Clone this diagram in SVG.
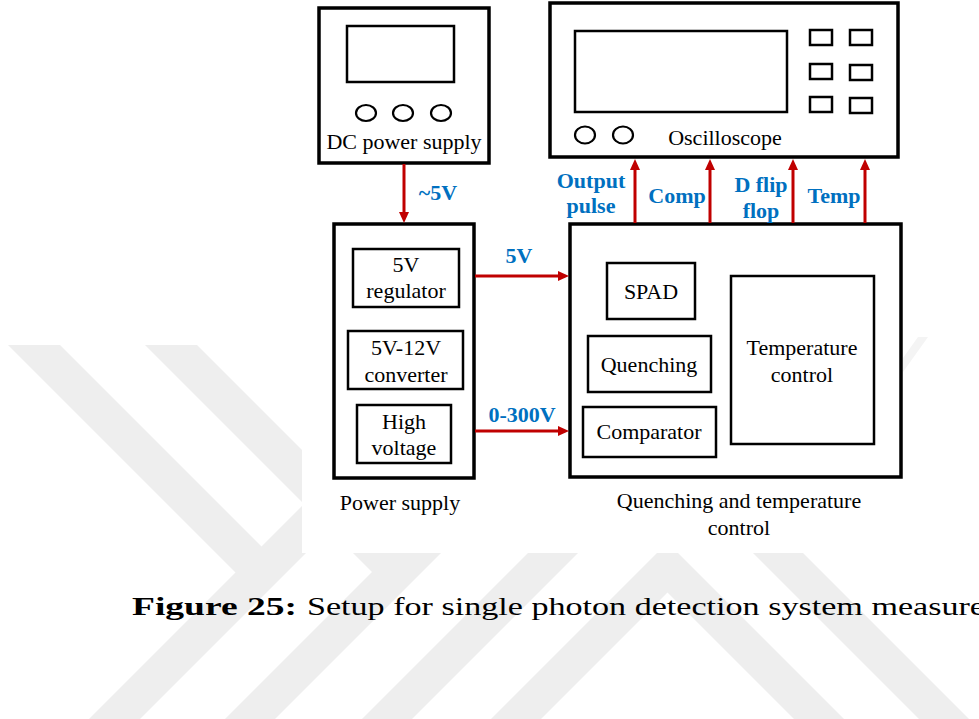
<svg xmlns="http://www.w3.org/2000/svg" width="979" height="719" viewBox="0 0 979 719">
<style>
.box{fill:none;stroke:#000;stroke-width:3.5}
.inner{fill:none;stroke:#000;stroke-width:2.5}
.knob{fill:none;stroke:#000;stroke-width:2.2}
.t{font-family:"Liberation Serif","Times New Roman",serif;font-size:22px;fill:#000;text-anchor:middle}
.lbl{font-family:"Liberation Serif","Times New Roman",serif;font-size:22px;font-weight:bold;fill:#0070c0;text-anchor:middle}
.wire{stroke:#c00000;stroke-width:3;fill:none;marker-end:url(#ah)}
.wm{fill:#eeeeee}
.cap{font-family:"Liberation Serif","Times New Roman",serif;font-size:26px;fill:#000}
</style>
<defs>
<marker id="ah" markerUnits="userSpaceOnUse" markerWidth="11" markerHeight="11" refX="5" refY="5" orient="auto">
<path d="M0,0 L11,5 L0,10 Z" fill="#c00000"/>
</marker>
</defs>
<rect x="0" y="0" width="979" height="719" fill="#ffffff"/>
<g id="watermark">
<polygon class="wm" points="8,345 60,345 272,557 246,583"/>
<polygon class="wm" points="558,250 609,250 140,719 89,719"/>
<polygon class="wm" points="145,345 197,345 410,558 384,584"/>
<polygon class="wm" points="694,250 744,250 275,719 225,719"/>
<polygon class="wm" points="831,250 881,250 412,719 362,719"/>
<polygon class="wm" points="667.5,542.5 844,719 794,719 667.5,592.5 541,719 491,719"/>
<polygon class="wm" points="700,450 981,731 931,731 650,450"/>
</g>
<rect x="302" y="0" width="601" height="553" fill="#ffffff"/>
<polygon points="903,372 928,337 918,337 903,358" fill="#f4f4f4"/>

<g id="dc-power-supply">
<rect class="box" x="319" y="8" width="170" height="155"/>
<rect class="inner" x="347" y="26" width="107" height="56"/>
<ellipse class="knob" cx="366" cy="113" rx="10" ry="8"/>
<ellipse class="knob" cx="403" cy="113" rx="10" ry="8"/>
<ellipse class="knob" cx="441" cy="113" rx="10" ry="8"/>
<text class="t" x="404" y="149">DC power supply</text>
</g>

<g id="oscilloscope">
<rect class="box" x="550" y="3" width="348" height="154"/>
<rect class="inner" x="575" y="31" width="212" height="81"/>
<rect class="inner" x="810" y="30" width="22" height="15"/>
<rect class="inner" x="850" y="30" width="22" height="15"/>
<rect class="inner" x="810" y="64" width="22" height="15"/>
<rect class="inner" x="850" y="65" width="22" height="15"/>
<rect class="inner" x="810" y="97" width="22" height="15"/>
<rect class="inner" x="850" y="98" width="22" height="15"/>
<ellipse class="knob" cx="585" cy="135" rx="10" ry="8.5"/>
<ellipse class="knob" cx="623" cy="135" rx="10" ry="8.5"/>
<text class="t" x="725" y="145">Oscilloscope</text>
</g>

<g id="power-supply">
<rect class="box" x="334" y="224" width="140" height="254"/>
<rect class="inner" x="353" y="249" width="106" height="58"/>
<text class="t" x="406" y="272">5V</text>
<text class="t" x="406" y="298">regulator</text>
<rect class="inner" x="348" y="331" width="115" height="58"/>
<text class="t" x="406" y="355">5V-12V</text>
<text class="t" x="406" y="382">converter</text>
<rect class="inner" x="357" y="405" width="94" height="58"/>
<text class="t" x="404" y="429">High</text>
<text class="t" x="404" y="455">voltage</text>
<text class="t" x="400" y="510">Power supply</text>
</g>

<g id="quenching-temperature-control">
<rect class="box" x="570" y="224" width="331" height="253"/>
<rect class="inner" x="607" y="263" width="88" height="56"/>
<text class="t" x="651" y="299">SPAD</text>
<rect class="inner" x="588" y="336" width="123" height="56"/>
<text class="t" x="649" y="372">Quenching</text>
<rect class="inner" x="583" y="407" width="133" height="50"/>
<text class="t" x="649" y="439">Comparator</text>
<rect class="inner" x="731" y="276" width="143" height="168"/>
<text class="t" x="802" y="355">Temperature</text>
<text class="t" x="802" y="382">control</text>
<text class="t" x="739" y="508">Quenching and temperature</text>
<text class="t" x="739" y="535">control</text>
</g>

<g id="connectors">
<line class="wire" x1="404" y1="164" x2="404" y2="217"/>
<line class="wire" x1="475" y1="276" x2="563" y2="276"/>
<line class="wire" x1="475" y1="431" x2="563" y2="431"/>
<line class="wire" x1="635" y1="223" x2="635" y2="165"/>
<line class="wire" x1="710" y1="223" x2="710" y2="165"/>
<line class="wire" x1="793" y1="223" x2="793" y2="165"/>
<line class="wire" x1="865" y1="223" x2="865" y2="165"/>
<text class="lbl" x="438" y="200">~5V</text>
<text class="lbl" x="519" y="263">5V</text>
<text class="lbl" x="522" y="422">0-300V</text>
<text class="lbl" x="591" y="188">Output</text>
<text class="lbl" x="591" y="213">pulse</text>
<text class="lbl" x="677" y="203">Comp</text>
<text class="lbl" x="761" y="192">D flip</text>
<text class="lbl" x="761" y="218">flop</text>
<text class="lbl" x="834" y="203">Temp</text>
</g>

<g id="caption">
<text class="cap" x="132" y="615" font-weight="bold" textLength="165" lengthAdjust="spacingAndGlyphs">Figure 25:</text>
<text class="cap" x="307" y="615" textLength="678" lengthAdjust="spacingAndGlyphs">Setup for single photon detection system measure</text>
</g>
</svg>
